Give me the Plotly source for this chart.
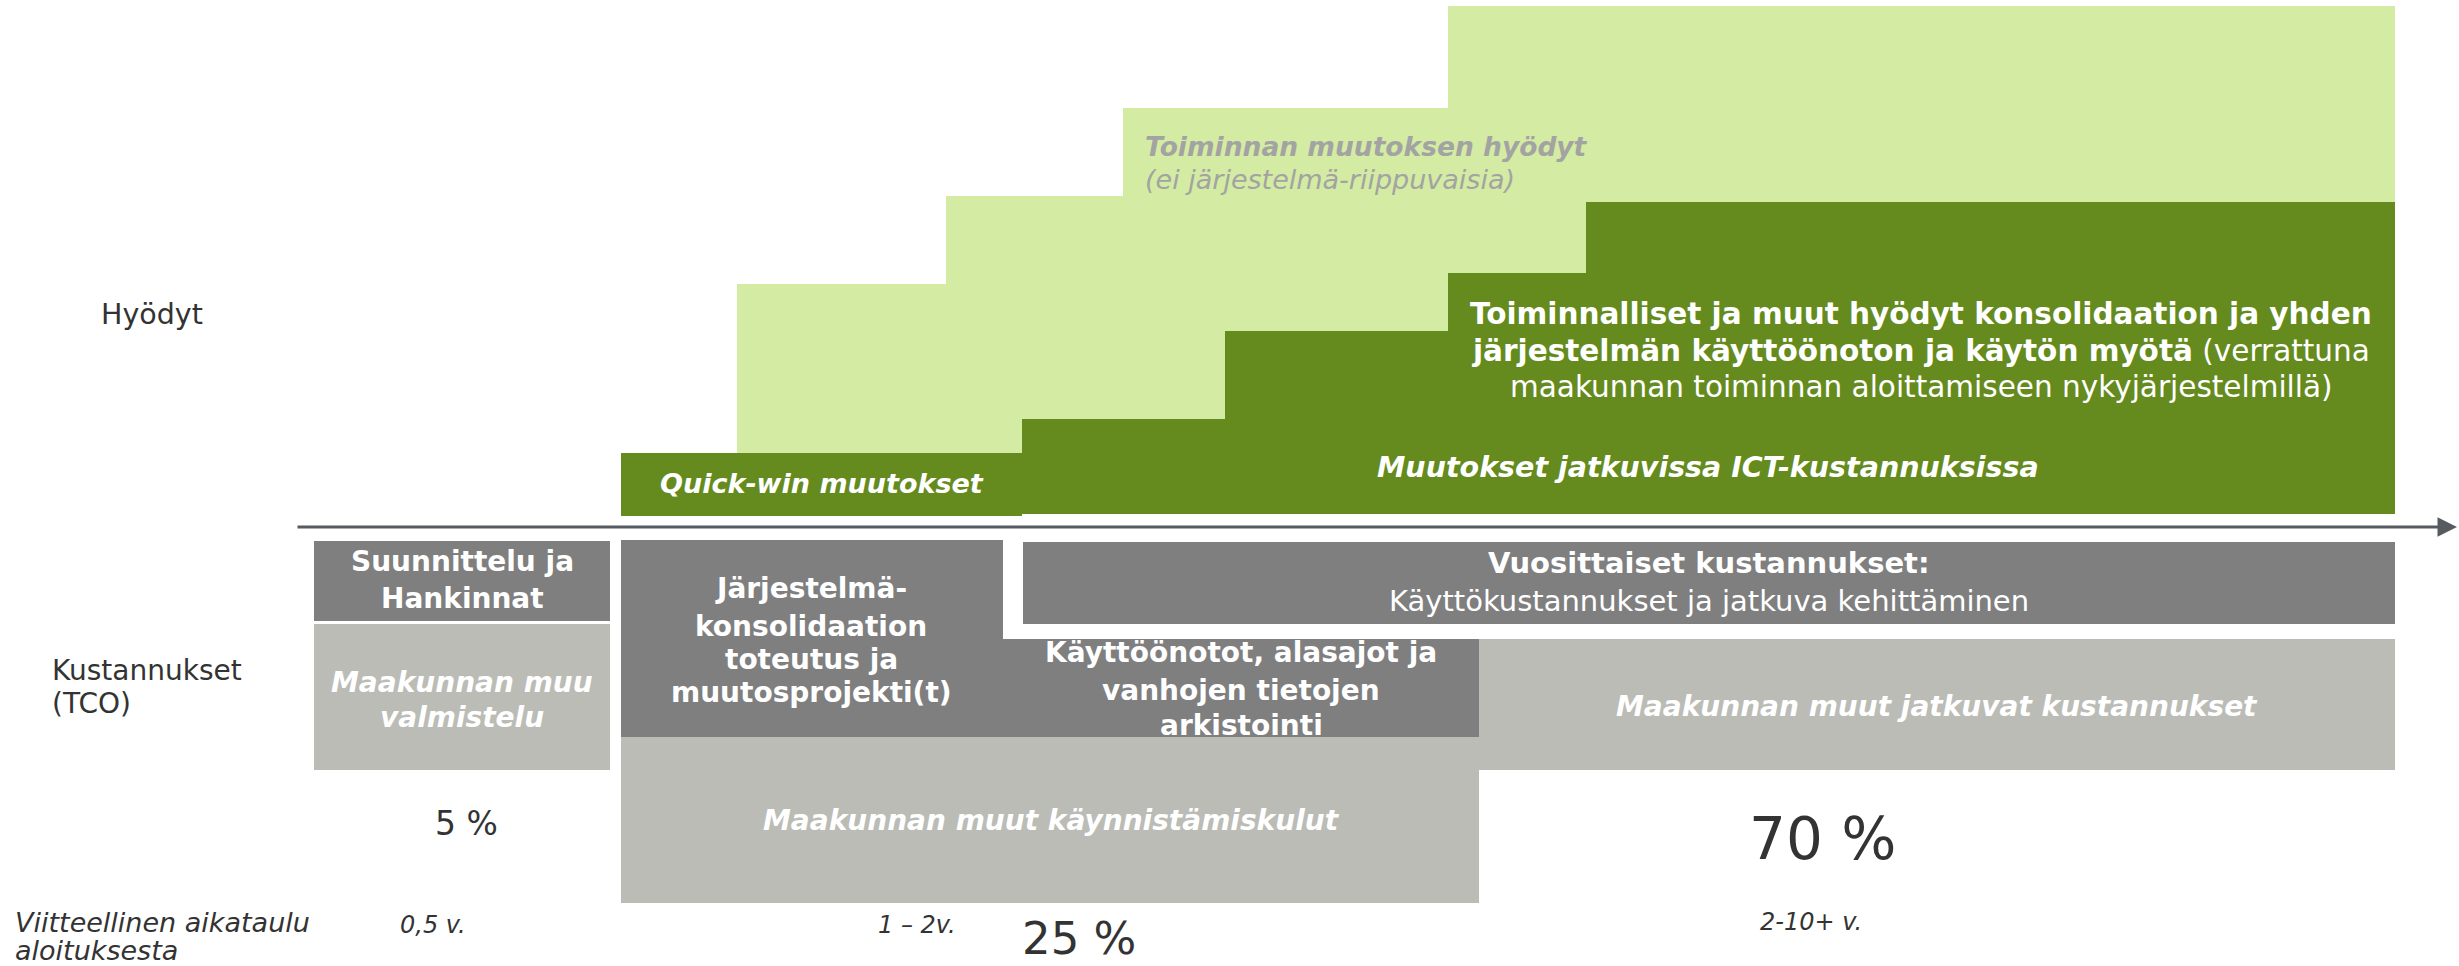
import plotly.graph_objects as go

W, H = 2459, 966

# ---- colours ----
DARK_GREEN = "#658B1E"
LIGHT_GREEN = "#D3EBA2"
DARK_GRAY = "#7F7F7F"
LIGHT_GRAY = "#BBBCB6"
TEXT_DARK = "#333333"
TEXT_MUTED = "#A3A3A3"
FONT = "Verdana, DejaVu Sans, sans-serif"

# ---- benefit staircase (light green: change benefits) ----
light_step_x = [737, 946, 1123, 1448, 2395]
light_step_top = [284, 196, 108, 6]
light_base = 453

# ---- benefit staircase (dark green: consolidation benefits) ----
dark_step_x = [1022, 1225, 1448, 1586, 2395]
dark_step_top = [419, 331, 273, 202]
dark_base = 514

# quick-win block
quick_x = [621, 1022]
quick_y = [453, 516]

# ---- cost blocks ----
cost_x0 = [314, 314, 621, 621, 1023, 621, 1479]
cost_x1 = [610, 610, 1003, 1479, 2395, 1479, 2395]
cost_y0 = [541, 624, 540, 639, 542, 737, 639]
cost_y1 = [621, 770, 640, 737, 624, 903, 770]
cost_col = [DARK_GRAY, LIGHT_GRAY, DARK_GRAY, DARK_GRAY, DARK_GRAY, LIGHT_GRAY, LIGHT_GRAY]

# ---- time axis arrow ----
axis_x = [296, 2457]
axis_y = 527


def step_polygon(xs, tops, base):
    px, py = [xs[0]], [base]
    for i, t in enumerate(tops):
        px += [xs[i], xs[i + 1]]
        py += [t, t]
    px += [xs[-1], xs[0]]
    py += [base, base]
    return px, py


fig = go.Figure()

lx, ly = step_polygon(light_step_x, light_step_top, light_base)
fig.add_trace(go.Scatter(x=lx, y=ly, fill="toself", fillcolor=LIGHT_GREEN,
                         mode="lines", line=dict(width=0), hoverinfo="skip"))
dx, dy = step_polygon(dark_step_x, dark_step_top, dark_base)
fig.add_trace(go.Scatter(x=dx, y=dy, fill="toself", fillcolor=DARK_GREEN,
                         mode="lines", line=dict(width=0), hoverinfo="skip"))
fig.add_trace(go.Scatter(x=[quick_x[0], quick_x[1], quick_x[1], quick_x[0], quick_x[0]],
                         y=[quick_y[0], quick_y[0], quick_y[1], quick_y[1], quick_y[0]],
                         fill="toself", fillcolor=DARK_GREEN, mode="lines",
                         line=dict(width=0), hoverinfo="skip"))

for x0, x1, y0, y1, c in zip(cost_x0, cost_x1, cost_y0, cost_y1, cost_col):
    fig.add_trace(go.Scatter(x=[x0, x1, x1, x0, x0], y=[y0, y0, y1, y1, y0],
                             fill="toself", fillcolor=c, mode="lines",
                             line=dict(width=0), hoverinfo="skip"))

# arrow
fig.add_annotation(x=axis_x[1], y=axis_y, ax=axis_x[0], ay=axis_y,
                   xref="x", yref="y", axref="x", ayref="y", text="",
                   showarrow=True, arrowhead=2, arrowsize=1.3, arrowwidth=3,
                   arrowcolor="#565B61")

# ---- texts ----
label_text = [
    "Hyödyt", "Kustannukset", "(TCO)",
    "Viitteellinen aikataulu", "aloituksesta",
]
label_x = [99, 50, 50, 13, 13]
label_y = [314, 670, 703, 922, 950]
label_style = ["", "", "", "i", "i"]
label_size = [28.5, 28, 28, 27, 27]

for t, x, y, s, fs in zip(label_text, label_x, label_y, label_style, label_size):
    txt = f"<i>{t}</i>" if s == "i" else t
    fig.add_annotation(x=x, y=y, xref="x", yref="y", text=txt, showarrow=False,
                       xanchor="left", yanchor="middle",
                       font=dict(family=FONT, size=fs, color=TEXT_DARK))

share_text = ["5 %", "25 %", "70 %"]
share_x = [466, 1079, 1822]
share_y = [823, 938, 839]
share_size = [33, 45, 58]
for t, x, y, s in zip(share_text, share_x, share_y, share_size):
    fig.add_annotation(x=x, y=y, xref="x", yref="y", text=t, showarrow=False,
                       xanchor="center", yanchor="middle",
                       font=dict(family=FONT, size=s, color=TEXT_DARK))

time_text = ["0,5 v.", "1 – 2v.", "2-10+ v."]
time_x = [433, 917, 1811]
time_y = [925, 925, 922]
for t, x, y in zip(time_text, time_x, time_y):
    fig.add_annotation(x=x, y=y, xref="x", yref="y", text=f"<i>{t}</i>",
                       showarrow=False, xanchor="center", yanchor="middle",
                       font=dict(family=FONT, size=24, color=TEXT_DARK))

# muted benefit label
fig.add_annotation(x=1143, y=146, xref="x", yref="y",
                   text="<b><i>Toiminnan muutoksen hyödyt</i></b>", showarrow=False,
                   xanchor="left", yanchor="middle",
                   font=dict(family=FONT, size=26.5, color=TEXT_MUTED))
fig.add_annotation(x=1143, y=179, xref="x", yref="y",
                   text="<i>(ei järjestelmä-riippuvaisia)</i>", showarrow=False,
                   xanchor="left", yanchor="middle",
                   font=dict(family=FONT, size=27, color=TEXT_MUTED))

# white block texts
block_lines = [
    ["<b>Toiminnalliset ja muut hyödyt konsolidaation ja yhden</b>",
     "<b>järjestelmän käyttöönoton ja käytön myötä</b> (verrattuna",
     "maakunnan toiminnan aloittamiseen nykyjärjestelmillä)"],
    ["<b><i>Muutokset jatkuvissa ICT-kustannuksissa</i></b>"],
    ["<b><i>Quick-win muutokset</i></b>"],
    ["<b>Suunnittelu ja</b>", "<b>Hankinnat</b>"],
    ["<b><i>Maakunnan muu</i></b>", "<b><i>valmistelu</i></b>"],
    ["<b>Järjestelmä-</b>", "<b>konsolidaation</b>", "<b>toteutus ja</b>",
     "<b>muutosprojekti(t)</b>"],
    ["<b>Käyttöönotot, alasajot ja</b>", "<b>vanhojen tietojen</b>",
     "<b>arkistointi</b>"],
    ["<b>Vuosittaiset kustannukset:</b>", "Käyttökustannukset ja jatkuva kehittäminen"],
    ["<b><i>Maakunnan muut käynnistämiskulut</i></b>"],
    ["<b><i>Maakunnan muut jatkuvat kustannukset</i></b>"],
]
block_cx = [1921, 1708, 822, 462, 462, 811, 1241, 1709, 1051, 1937]
block_ly = [
    [314, 351, 387],
    [467],
    [483],
    [561, 598],
    [682, 717],
    [588, 626, 659, 692],
    [652, 690, 725],
    [563, 601],
    [820],
    [706],
]
block_size = [29.5, 28.5, 27, 28, 28, 28, 28, 29, 28, 28]

for lines, cx, ys, fs in zip(block_lines, block_cx, block_ly, block_size):
    for t, y in zip(lines, ys):
        fig.add_annotation(x=cx, y=y, xref="x", yref="y", text=t, showarrow=False,
                           xanchor="center", yanchor="middle",
                           font=dict(family=FONT, size=fs, color="white"))

fig.update_xaxes(range=[0, W], visible=False, fixedrange=True)
fig.update_yaxes(range=[H, 0], visible=False, fixedrange=True)
fig.update_layout(width=W, height=H, margin=dict(l=0, r=0, t=0, b=0),
                  paper_bgcolor="white", plot_bgcolor="white", showlegend=False)

fig.write_html("out.html", config={"displayModeBar": False},
               post_script="document.body.style.margin='0px';document.body.style.overflow='hidden';")
